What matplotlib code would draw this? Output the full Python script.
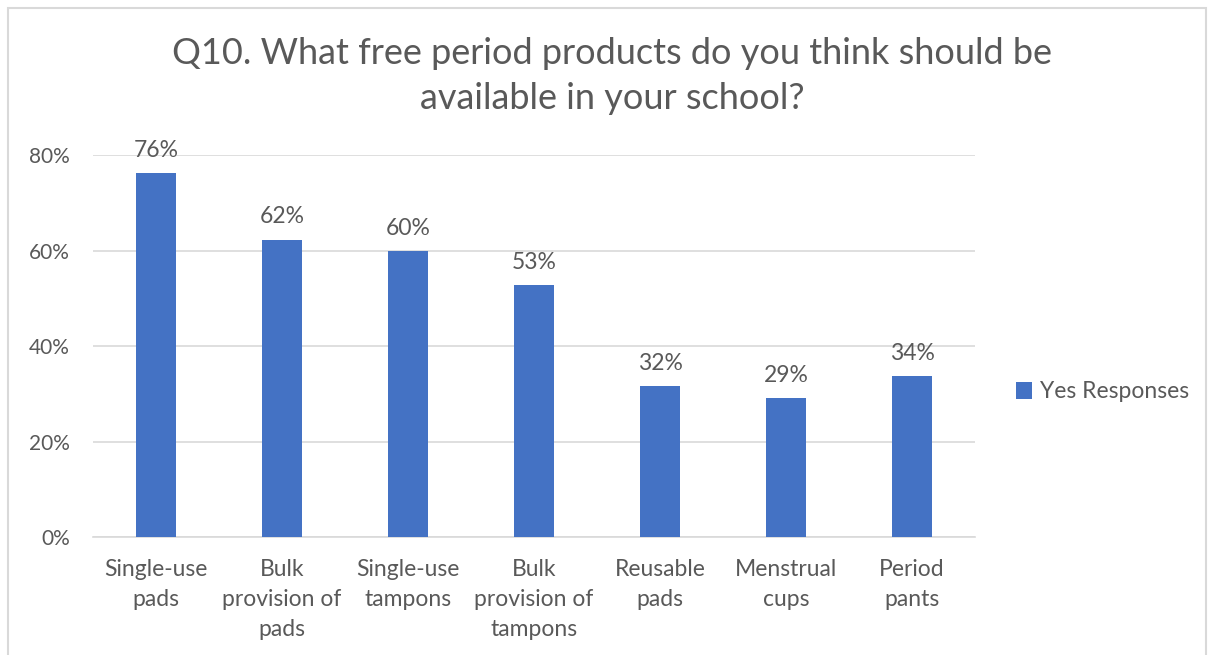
import matplotlib.pyplot as plt
from matplotlib.patches import Rectangle
from matplotlib.ticker import FuncFormatter

categories = ["Single-use\npads", "Bulk\nprovision of\npads", "Single-use\ntampons",
              "Bulk\nprovision of\ntampons", "Reusable\npads", "Menstrual\ncups", "Period\npants"]
yes_responses = [0.762, 0.623, 0.598, 0.527, 0.316, 0.291, 0.337]
series_name = "Yes Responses"
title = "Q10. What free period products do you think should be\navailable in your school?"

plt.rcParams['font.family'] = ['Lato', 'DejaVu Sans']
text_col = "#595959"
bar_col = "#4472C4"
grid_col = "#D9D9D9"
fs = 16.5

fig = plt.figure(figsize=(12.14, 6.55), dpi=100)
ax = fig.add_axes([93 / 1214, 1 - 537 / 655, (975 - 93) / 1214, (537 - 155) / 655])

x = range(len(categories))
bars = ax.bar(x, yes_responses, width=0.31, color=bar_col, label=series_name, zorder=3)
for b, v in zip(bars, yes_responses):
    ax.annotate(f"{round(v * 100)}%", (b.get_x() + b.get_width() / 2, v),
                xytext=(0, 9), textcoords="offset points", ha="center", va="bottom",
                fontsize=fs, color=text_col)

ax.set_xlim(-0.5, len(categories) - 0.5)
ax.set_ylim(0, 0.8)
ax.set_yticks([0, 0.2, 0.4, 0.6, 0.8])
ax.yaxis.set_major_formatter(FuncFormatter(lambda v, p: f"{v * 100:.0f}%"))
ax.set_xticks(list(x))
ax.set_xticklabels(categories, linespacing=1.52)
ax.tick_params(axis="both", length=0, labelsize=fs, labelcolor=text_col)
ax.tick_params(axis="y", pad=16.5, labelsize=15)
ax.tick_params(axis="x", pad=16)
ax.grid(axis="y", color=grid_col, linewidth=1.2, zorder=0)
for s in ["top", "right", "left"]:
    ax.spines[s].set_visible(False)
ax.spines["bottom"].set_color(grid_col)
ax.spines["bottom"].set_linewidth(1.2)

fig.text(0.504, 1 - 76 / 655, title, ha="center", va="center", fontsize=26,
         color=text_col, linespacing=1.42)

fig.legend(loc="center left", bbox_to_anchor=(995 / 1214, 1 - 392 / 655), frameon=False,
           fontsize=fs, labelcolor=text_col, handlelength=0.7, handleheight=0.7,
           handletextpad=0.35)

fig.patches.append(Rectangle((8 / 1214, -0.05), (1206 - 8) / 1214, 1.05 - 8 / 655,
                             transform=fig.transFigure, fill=False, edgecolor=grid_col,
                             linewidth=1.5))

fig.savefig("out.png", dpi=100)
